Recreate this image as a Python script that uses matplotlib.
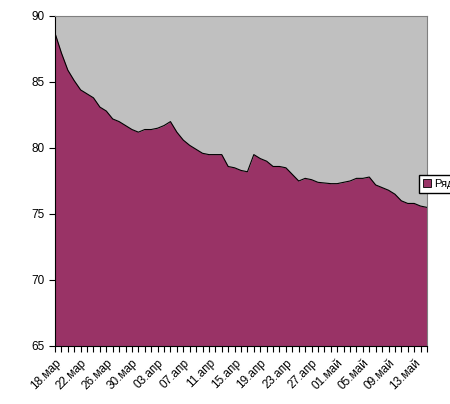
import matplotlib
matplotlib.use('Agg')
import matplotlib.pyplot as plt
import pandas as pd
import numpy as np
from matplotlib.patches import Patch

plt.rcParams['font.family'] = ['Liberation Sans', 'DejaVu Sans']

# daily values, 18 March .. 15 May
dates = pd.date_range('2008-03-18', periods=59, freq='D')
values = [88.7, 87.2, 85.9, 85.1, 84.4, 84.1, 83.8, 83.1, 82.8, 82.2,
          82.0, 81.7, 81.4, 81.2, 81.4, 81.4, 81.5, 81.7, 82.0, 81.2,
          80.6, 80.2, 79.9, 79.6, 79.5, 79.5, 79.5, 78.6, 78.5, 78.3,
          78.2, 79.5, 79.2, 79.0, 78.6, 78.6, 78.5, 78.0, 77.5, 77.7,
          77.6, 77.4, 77.35, 77.3, 77.3, 77.4, 77.5, 77.7, 77.7, 77.8,
          77.2, 77.0, 76.8, 76.5, 76.0, 75.8, 75.8, 75.6, 75.5]
month_names = {3: 'мар', 4: 'апр', 5: 'май'}
series_name = 'Ряд1'

x = np.arange(len(values))
labels = [f'{d.day:02d}.{month_names[d.month]}' for d in dates]

fig = plt.figure(figsize=(4.5, 4.04), dpi=100)
ax = fig.add_axes([55 / 450, 1 - 346 / 404, 372 / 450, 330 / 404])
ax.set_facecolor('#C0C0C0')

ax.fill_between(x, values, 65, color='#993366', linewidth=0, label=series_name)
ax.plot(x, values, color='black', linewidth=0.8)

ax.set_xlim(0, len(values) - 1)
ax.set_ylim(65, 90)
ax.set_yticks([65, 70, 75, 80, 85, 90])
ax.set_yticklabels(['65', '70', '75', '80', '85', '90'], fontsize=8.5)

ax.set_xticks(x, minor=True)
ax.set_xticks(x[::4])
ax.set_xticklabels(labels[::4], rotation=45, ha='right', rotation_mode='anchor', fontsize=8.5)
ax.tick_params(axis='x', which='both', direction='out', length=4, width=0.8, pad=4)
ax.tick_params(axis='y', direction='out', length=4, width=0.8)

for side in ['top', 'right']:
    ax.spines[side].set_color('#808080')
    ax.spines[side].set_linewidth(0.8)

fig.legend(handles=[Patch(facecolor='#993366', edgecolor='black', linewidth=0.6, label=series_name)],
           loc='upper left', bbox_to_anchor=(419 / 450, 1 - 175 / 404),
           fontsize=8, frameon=True, fancybox=False, edgecolor='black',
           handlelength=0.7, handleheight=0.7, handletextpad=0.3, borderpad=0.35,
           borderaxespad=0, framealpha=1)

fig.savefig('out.png', dpi=100)
